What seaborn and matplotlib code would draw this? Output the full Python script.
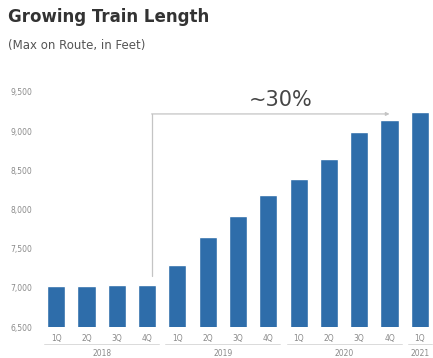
import matplotlib
matplotlib.use("Agg")
import matplotlib.pyplot as plt
import seaborn as sns
import pandas as pd

# Quarterly maximum train length on route (feet)
quarters = ["1Q", "2Q", "3Q", "4Q", "1Q", "2Q", "3Q", "4Q", "1Q", "2Q", "3Q", "4Q", "1Q"]
years = ["2018"] * 4 + ["2019"] * 4 + ["2020"] * 4 + ["2021"]
lengths = [7020, 7025, 7035, 7040, 7290, 7645, 7915, 8180, 8390, 8650, 8990, 9140, 9240]
y_ticks = [6500, 7000, 7500, 8000, 8500, 9000, 9500]
growth_label = "~30%"

df = pd.DataFrame({"slot": [f"{q} {y}" for q, y in zip(quarters, years)],
                   "quarter": quarters, "year": years, "length": lengths})

sns.set_style("white")
plt.rcParams["font.family"] = ["DejaVu Sans"]

fig = plt.figure(figsize=(4.33, 3.58), dpi=100)
ax = fig.add_axes([41 / 433, 31 / 358, 391 / 433, 235 / 358])

sns.barplot(data=df, x="slot", y="length", color="#2E6DAA", saturation=1,
            width=0.6, ax=ax)

ax.set_ylim(6500, 9500)
ax.set_xlim(-0.5, 12.4)
ax.set_yticks(y_ticks)
ax.set_yticklabels([f"{v:,}" for v in y_ticks], fontsize=5.5, color="#8a8a8a")
ax.set_xticks(range(len(quarters)))
ax.set_xticklabels(quarters, fontsize=5.5, color="#8a8a8a")
ax.tick_params(axis="x", length=0, pad=5)
ax.tick_params(axis="y", length=0, pad=6)
ax.set_xlabel("")
ax.set_ylabel("")
sns.despine(ax=ax, left=True, bottom=True)

# Year groups beneath the quarter labels
xform = ax.get_xaxis_transform()
for yr in ["2018", "2019", "2020", "2021"]:
    idx = [i for i, y in enumerate(years) if y == yr]
    lo, hi = idx[0] - 0.4, idx[-1] + 0.4
    line_y = -17 / 235
    ax.plot([lo, hi], [line_y, line_y], transform=xform,
            color="#d5d5d5", lw=0.6, clip_on=False)
    ax.text((idx[0] + idx[-1]) / 2, -26 / 235, yr, transform=xform,
            ha="center", va="center", fontsize=5.5, color="#8a8a8a")

# Growth bracket from 4Q 2018 to 4Q 2020
start_i, end_i = 3, 11
top_y = 9220
ax.plot([start_i + 0.15, start_i + 0.15], [lengths[start_i] + 110, top_y],
        color="#c4c4c4", lw=0.9)
ax.annotate("", xy=(end_i, top_y), xytext=(start_i + 0.15, top_y),
            arrowprops=dict(arrowstyle="-|>", color="#c4c4c4", lw=0.9,
                            mutation_scale=5, shrinkA=0, shrinkB=0))
ax.text(7.4, 9395, growth_label, ha="center", va="center",
        fontsize=15, color="#454545")

fig.text(8 / 433, 1 - 17 / 358, "Growing Train Length", fontsize=12, fontweight="bold",
         color="#333333", va="center", ha="left")
fig.text(8 / 433, 1 - 45 / 358, "(Max on Route, in Feet)", fontsize=8.5,
         color="#555555", va="center", ha="left")

fig.savefig("out.png", dpi=100, facecolor="white")
